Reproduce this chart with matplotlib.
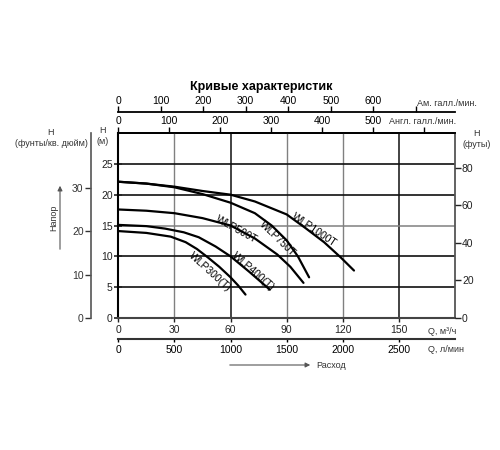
import numpy as np
import matplotlib
matplotlib.use('Agg')
import matplotlib.pyplot as plt

plt.rcParams['font.family'] = ['Liberation Sans', 'DejaVu Sans']

# Кривые насосов: расход Q (м3/ч) и напор H (м)
q_1000 = [0, 15, 30, 45, 60, 73, 90, 100, 110, 119, 126]
h_1000 = [22.1, 21.8, 21.3, 20.6, 20.0, 18.9, 16.8, 14.6, 12.3, 9.8, 7.7]

q_750 = [0, 15, 30, 45, 60, 73, 82, 90, 96, 102]
h_750 = [22.1, 21.8, 21.2, 20.1, 18.7, 17.0, 15.0, 12.6, 10.0, 6.6]

q_500 = [0, 15, 30, 45, 60, 73, 85, 92, 99]
h_500 = [17.6, 17.4, 17.0, 16.2, 15.0, 12.9, 10.3, 8.3, 5.7]

q_400 = [0, 15, 25, 35, 43, 52, 60, 70, 81]
h_400 = [15.1, 14.9, 14.5, 13.9, 13.1, 11.6, 10.0, 7.5, 4.6]

q_300 = [0, 15, 28, 36, 42, 48, 54, 60, 64, 68]
h_300 = [14.1, 13.8, 13.2, 12.3, 11.2, 9.8, 8.3, 6.6, 5.3, 3.8]

names = ['WLP1000T', 'WLP750T', 'WLP500T', 'WLP400(T)', 'WLP300(T)']
label_q = [104.5, 85, 63, 72, 49]
label_h = [14.3, 12.9, 14.4, 7.6, 7.4]
label_rot = [-34, -44, -29, -41, -42]

q_ticks = [0, 30, 60, 90, 120, 150]
h_ticks = [0, 5, 10, 15, 20, 25]
psi_ticks = [0, 10, 20, 30]
ft_ticks = [0, 20, 40, 60, 80]
imp_ticks = [0, 100, 200, 300, 400, 500, 600]
us_ticks = [0, 100, 200, 300, 400, 500, 600, 700]
lpm_ticks = [0, 500, 1000, 1500, 2000, 2500]

FS = 7.5
SMALL = 6.5

fig = plt.figure(figsize=(5, 4.5), dpi=100)
ax = fig.add_axes([0.2366, 0.2933, 0.6734, 0.4111])
ax.set_xlim(0, 180)
ax.set_ylim(0, 30)

# сетка
for q in [30, 90, 120]:
    ax.axvline(q, color='#808080', lw=1.0, zorder=1)
for q in [60, 150]:
    ax.axvline(q, color='#222222', lw=1.2, zorder=1)
for h in [5, 10, 20, 25]:
    ax.axhline(h, color='#111111', lw=1.2, zorder=1)
ax.axhline(15, color='#808080', lw=1.1, zorder=1)

curves = [(q_1000, h_1000), (q_750, h_750), (q_500, h_500), (q_400, h_400), (q_300, h_300)]
for (q, h) in curves:
    ax.plot(q, h, color='black', lw=1.6, zorder=3, solid_capstyle='round')

for name, lq, lh, rot in zip(names, label_q, label_h, label_rot):
    ax.text(lq, lh, name, rotation=rot, rotation_mode='anchor', ha='center', va='center',
            fontsize=FS, zorder=4)

ax.set_xticks(q_ticks)
ax.set_yticks(h_ticks)
ax.tick_params(axis='both', labelsize=FS, colors='#222222')
ax.tick_params(axis='y', direction='inout', length=6, width=1.2, pad=1)
ax.tick_params(axis='x', direction='out', length=3, width=1.0, pad=2)
ax.spines['left'].set_linewidth(1.5)
ax.spines['bottom'].set_linewidth(1.5)
ax.spines['bottom'].set_color('#444444')
ax.spines['right'].set_linewidth(1.3)
ax.spines['right'].set_color('#555555')
ax.spines['top'].set_linewidth(1.3)

# правая шкала, футы
ax_ft = ax.twinx()
ax_ft.set_ylim(0, 30 / 0.3048)
ax_ft.set_yticks(ft_ticks)
ax_ft.tick_params(axis='y', labelsize=FS, direction='out', length=4, width=1.0, pad=1, colors='#222222')
for s in ['left', 'top', 'bottom', 'right']:
    ax_ft.spines[s].set_visible(False)

# левая шкала, фунты/кв. дюйм
ax_psi = ax.twinx()
ax_psi.set_ylim(0, 30 / 0.70307)
ax_psi.yaxis.set_ticks_position('left')
ax_psi.yaxis.set_label_position('left')
ax_psi.set_yticks(psi_ticks)
ax_psi.spines['left'].set_visible(True)
ax_psi.spines['left'].set_position(('outward', 20))
ax_psi.spines['left'].set_color('#555555')
ax_psi.spines['left'].set_linewidth(1.2)
for s in ['top', 'bottom', 'right']:
    ax_psi.spines[s].set_visible(False)
ax_psi.tick_params(axis='y', labelsize=FS, direction='out', length=4, width=1.0, pad=1, colors='#333333')

# верхние шкалы, галлоны
def to_imp(x):
    return np.asarray(x) / 0.272765

def from_imp(x):
    return np.asarray(x) * 0.272765

def to_us(x):
    return np.asarray(x) / 0.227125

def from_us(x):
    return np.asarray(x) * 0.227125

sec_imp = ax.secondary_xaxis('top', functions=(to_imp, from_imp))
sec_imp.set_xticks(imp_ticks)
sec_imp.set_xticklabels([str(t) for t in imp_ticks[:-1]] + [''])
sec_imp.tick_params(labelsize=FS, direction='out', length=4, width=1.0, pad=1)
sec_imp.spines['top'].set_linewidth(1.3)

sec_us = ax.secondary_xaxis(1.111, functions=(to_us, from_us))
sec_us.set_xticks(us_ticks)
sec_us.set_xticklabels([str(t) for t in us_ticks[:-1]] + [''])
sec_us.tick_params(labelsize=FS, direction='out', length=4, width=1.0, pad=1)
sec_us.spines['top'].set_linewidth(1.3)

# нижняя шкала, л/мин
def to_lpm(x):
    return np.asarray(x) * 1000 / 60

def from_lpm(x):
    return np.asarray(x) * 60 / 1000

sec_l = ax.secondary_xaxis(-0.1135, functions=(to_lpm, from_lpm))
sec_l.set_xticks(lpm_ticks)
sec_l.tick_params(labelsize=FS, direction='out', length=2, width=1.0, pad=2)
sec_l.spines['bottom'].set_linewidth(1.5)
sec_l.spines['bottom'].set_color('#333333')

def fx(px):
    return px / 500

def fy(py):
    return 1 - py / 450

fig.text(fx(261), fy(87), 'Кривые характеристик', ha='center', va='center', fontsize=9, fontweight='bold')
fig.text(fx(417), fy(103), 'Ам. галл./мин.', ha='left', va='center', fontsize=SMALL, color='#333333')
fig.text(fx(389), fy(121), 'Англ. галл./мин.', ha='left', va='center', fontsize=SMALL, color='#333333')
fig.text(fx(477), fy(139), 'H\n(футы)', ha='center', va='center', fontsize=SMALL, color='#333333', linespacing=1.2)
fig.text(fx(103), fy(136), 'H\n(м)', ha='center', va='center', fontsize=SMALL, color='#333333', linespacing=1.2)
fig.text(fx(51), fy(138), 'H\n(фунты/кв. дюйм)', ha='center', va='center', fontsize=SMALL, color='#333333', linespacing=1.2)
fig.text(fx(428), fy(331), 'Q, м³/ч', ha='left', va='center', fontsize=SMALL, color='#333333')
fig.text(fx(428), fy(350), 'Q, л/мин', ha='left', va='center', fontsize=SMALL, color='#333333')
fig.text(fx(316), fy(365), 'Расход', ha='left', va='center', fontsize=SMALL, color='#333333')
fig.text(fx(54), fy(218), 'Напор', ha='center', va='center', rotation=90, fontsize=SMALL, color='#333333')

ax.annotate('', xy=(313, 450 - 365), xytext=(227, 450 - 365), xycoords='figure pixels',
            arrowprops=dict(arrowstyle='-|>', color='#555555', lw=0.8, mutation_scale=7))
ax.annotate('', xy=(60, 450 - 183), xytext=(60, 450 - 252), xycoords='figure pixels',
            arrowprops=dict(arrowstyle='-|>', color='#555555', lw=0.8, mutation_scale=7))

fig.savefig('out.png', dpi=100)
